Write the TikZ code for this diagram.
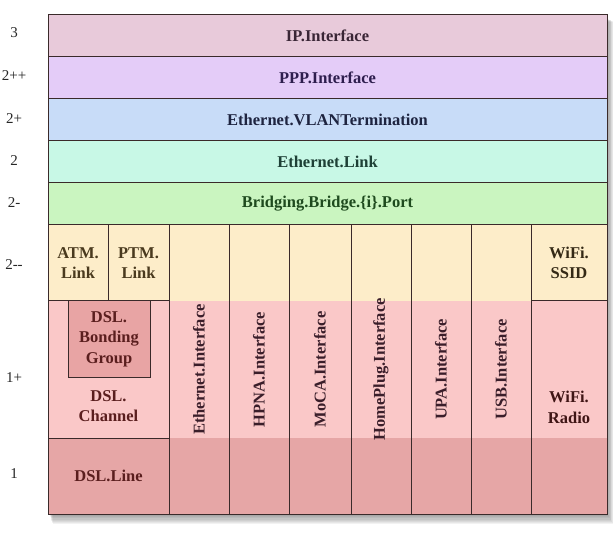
\documentclass[tikz,border=0pt]{standalone}
\usepackage{fontspec}
\setmainfont{Liberation Serif}
\definecolor{ipfill}{RGB}{232,202,218}
\definecolor{pppfill}{RGB}{228,204,248}
\definecolor{vlanfill}{RGB}{200,220,248}
\definecolor{ethfill}{RGB}{200,248,230}
\definecolor{brfill}{RGB}{202,245,192}
\definecolor{yelfill}{RGB}{253,237,201}
\definecolor{pinkfill}{RGB}{250,200,200}
\definecolor{darkpink}{RGB}{230,166,166}
\definecolor{bondfill}{RGB}{232,164,164}
\definecolor{iptext}{RGB}{58,38,54}
\definecolor{ppptext}{RGB}{46,30,78}
\definecolor{vlantext}{RGB}{30,36,64}
\definecolor{ethtext}{RGB}{30,64,54}
\definecolor{brtext}{RGB}{30,74,30}
\definecolor{yeltext}{RGB}{74,58,30}
\definecolor{dsltext}{RGB}{90,30,30}
\definecolor{ifctext}{RGB}{58,30,42}
\definecolor{linec}{RGB}{58,42,42}
\tikzset{
  box/.style={draw=linec, line width=1pt, rectangle, inner sep=0pt,
    font=\bfseries\fontsize{16.5}{20.5}\selectfont, align=center},
  rowbox/.style={box, minimum width=559pt, minimum height=42pt},
  colbox/.style={box, rotate=90, minimum width=289pt, text=ifctext},
  lvl/.style={font=\fontsize{15}{18}\selectfont, text=black!85},
}
\begin{document}
\begin{tikzpicture}[x=1pt,y=-1pt]
\useasboundingbox (0,0) rectangle (613,537);
% shadow
\foreach \s in {1,...,9}
  \fill[black,opacity=0.05] (48+1+\s*0.4,15+3+\s*0.4) rectangle (607+\s*0.7,514+\s*1.1);
% top rows
\node[rowbox, fill=ipfill, text=iptext] (ip) at (327.5,36) {IP.Interface};
\node[rowbox, fill=pppfill, text=ppptext] (ppp) at (327.5,78) {PPP.Interface};
\node[rowbox, fill=vlanfill, text=vlantext] (vlan) at (327.5,120) {Ethernet.VLANTermination};
\node[rowbox, fill=ethfill, text=ethtext] (eth) at (327.5,162) {Ethernet.Link};
\node[rowbox, fill=brfill, text=brtext] (br) at (327.5,204) {Bridging.Bridge.\{i\}.Port};
% lower background bands
\fill[yelfill] (48,225) rectangle (607,301);
\fill[pinkfill] (48,301) rectangle (607,438);
\fill[darkpink] (48,438) rectangle (607,514);
% DSL stack
\node[box, minimum width=60pt, minimum height=76pt, text=yeltext] (atm) at (78,263) {ATM.\\Link};
\node[box, minimum width=61pt, minimum height=76pt, text=yeltext] (ptm) at (138.5,263) {PTM.\\Link};
\node[box, minimum width=121pt, minimum height=137pt] (chan) at (108.5,369.5) {};
\node[font=\bfseries\fontsize{16.5}{20.5}\selectfont, align=center, text=dsltext, inner sep=0pt] (chanl) at (108.5,406) {DSL.\\Channel};
\node[box, fill=bondfill, minimum width=82pt, minimum height=76pt, text=dsltext] (bond) at (109,339) {DSL.\\Bonding\\Group};
\node[box, minimum width=121pt, minimum height=76pt, text=dsltext] (dslline) at (108.5,476) {DSL.Line};
% interface columns
\node[colbox, minimum height=60pt] (ethif) at (199,369.5) {Ethernet.Interface};
\node[colbox, minimum height=60pt] (hpna) at (259,369.5) {HPNA.Interface};
\node[colbox, minimum height=62pt] (moca) at (320,369.5) {MoCA.Interface};
\node[colbox, minimum height=60pt] (hplug) at (381,369.5) {HomePlug.Interface};
\node[colbox, minimum height=60pt] (upa) at (441,369.5) {UPA.Interface};
\node[colbox, minimum height=60pt] (usb) at (501,369.5) {USB.Interface};
% WiFi
\node[box, minimum width=76pt, minimum height=76pt, text=yeltext!70!black] (ssid) at (569,263) {WiFi.\\SSID};
\node[box, minimum width=76pt, minimum height=213pt, text=dsltext!70!black] (radio) at (569,407.5) {WiFi.\\Radio};
% level labels
\node[lvl] (l3) at (14,33) {3};
\node[lvl] (l2pp) at (14,76) {2++};
\node[lvl] (l2p) at (14,119) {2+};
\node[lvl] (l2) at (14,161) {2};
\node[lvl] (l2m) at (14,203) {2-};
\node[lvl] (l2mm) at (14,265) {2-{}-};
\node[lvl] (l1p) at (14,378) {1+};
\node[lvl] (l1) at (14,474) {1};
\end{tikzpicture}
\end{document}
